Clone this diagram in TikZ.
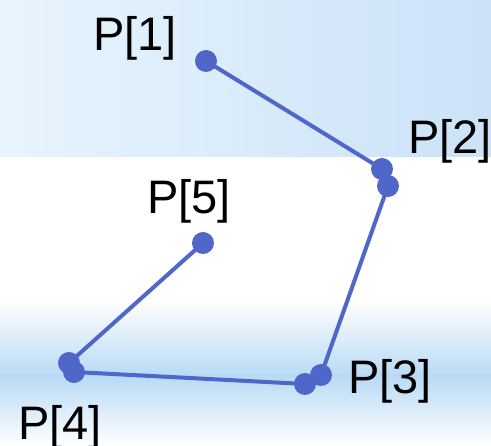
\documentclass[tikz,border=0pt]{standalone}
\usepackage{fontspec}
\setmainfont{Liberation Sans}
\usetikzlibrary{backgrounds}
\definecolor{dotblue}{HTML}{4F67C9}
\definecolor{skyL}{HTML}{E8F4FD}
\definecolor{skyR}{HTML}{CBE2F8}
\definecolor{band}{HTML}{B9DAF5}
\tikzset{
  dot/.style={circle,fill=dotblue,inner sep=0pt,minimum size=22pt},
  seg/.style={draw=dotblue,line width=4pt},
  lbl/.style={anchor=base west,inner sep=0pt,font=\fontsize{47}{56}\selectfont}
}
\begin{document}
\begin{tikzpicture}[x=1pt,y=-1pt]
\useasboundingbox (0,0) rectangle (491,446);
% dots
\node[dot] (p1) at (206,61) {};
\node[dot] (p2a) at (382,169) {};
\node[dot] (p2b) at (388,186) {};
\node[dot] (p3a) at (321,375) {};
\node[dot] (p3b) at (305,384) {};
\node[dot] (p4a) at (69,363) {};
\node[dot] (p4b) at (74,372) {};
\node[dot] (p5) at (203,243) {};
% labels
\node[lbl] (l1) at (93,51) {P[1]};
\node[lbl] (l2) at (408,154) {P[2]};
\node[lbl] (l5) at (147,214) {P[5]};
\node[lbl] (l3) at (348,394) {P[3]};
\node[lbl] (l4) at (18,440) {P[4]};
\begin{scope}[on background layer]
  \fill[white] (0,0) rectangle (491,446);
  \shade[left color=skyL,right color=skyR] (0,0) rectangle (491,157);
  \shade[top color=white,bottom color=band] (0,300) rectangle (491,376);
  \shade[top color=band,bottom color=white] (0,376) rectangle (491,446);
  \draw[seg] (p1.center) -- (p2a.center);
  \draw[seg] (p2b.center) -- (p3a.center);
  \draw[seg] (p3b.center) -- (p4b.center);
  \draw[seg] (p4a.center) -- (p5.center);
\end{scope}
\end{tikzpicture}
\end{document}
